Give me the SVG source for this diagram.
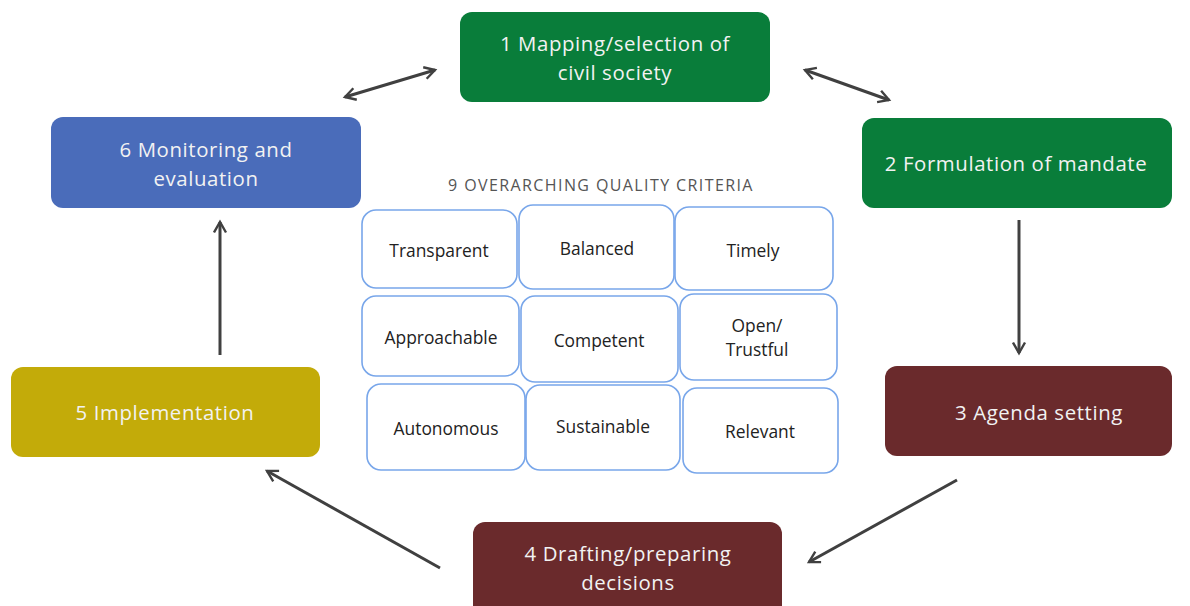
<svg xmlns="http://www.w3.org/2000/svg" width="1190" height="606" viewBox="0 0 1190 606">
<defs>
<style>
.node text{font-family:"Open Sans","Liberation Sans",sans-serif;font-size:20.4px;letter-spacing:0.6px;fill:#f2f2f2;text-anchor:middle}
.crit rect{fill:#fff;stroke:#78a6ea;stroke-width:1.6}
.crit text{font-family:"Open Sans","Liberation Sans",sans-serif;font-size:17.4px;fill:#222;text-anchor:middle}
.title{font-family:"Open Sans","Liberation Sans",sans-serif;font-size:16px;letter-spacing:1.4px;fill:#555;text-anchor:middle}
.conn line{stroke:#404040;stroke-width:3;fill:none}
</style>
<marker id="ah" viewBox="0 0 10 10" refX="8" refY="5" markerWidth="5" markerHeight="5" orient="auto-start-reverse" markerUnits="strokeWidth">
<path d="M1,1 L8,5 L1,9" fill="none" stroke="#404040" stroke-width="1.6"/>
</marker>
</defs>
<rect width="1190" height="606" fill="#fff"/>
<g id="n1" class="node"><rect x="460" y="12" width="310" height="90" rx="12" fill="#097d3a"/><text x="615" y="51">1 Mapping/selection of</text><text x="615" y="79.5">civil society</text></g>
<g id="n2" class="node"><rect x="862" y="118" width="310" height="90" rx="12" fill="#097d3a"/><text x="1016" y="171">2 Formulation of mandate</text></g>
<g id="n3" class="node"><rect x="885" y="366" width="287" height="90" rx="12" fill="#6a2a2c"/><text x="1039" y="420">3 Agenda setting</text></g>
<g id="n4" class="node"><rect x="473" y="522" width="309" height="96" rx="12" fill="#6a2a2c"/><text x="628" y="561">4 Drafting/preparing</text><text x="628" y="589.5">decisions</text></g>
<g id="n5" class="node"><rect x="11" y="367" width="309" height="90" rx="12" fill="#c3ab09"/><text x="165" y="420">5 Implementation</text></g>
<g id="n6" class="node"><rect x="51" y="117" width="310" height="91" rx="12" fill="#4a6cba"/><text x="206" y="157">6 Monitoring and</text><text x="206" y="185.5">evaluation</text></g>
<text class="title" x="601" y="191">9 OVERARCHING QUALITY CRITERIA</text>
<g id="criteria" class="crit">
<g id="c1"><rect x="362" y="210" width="155" height="78" rx="14"/><text x="439" y="257">Transparent</text></g>
<g id="c2"><rect x="519" y="205" width="155" height="84" rx="14"/><text x="597" y="255">Balanced</text></g>
<g id="c3"><rect x="675" y="207" width="158" height="83" rx="14"/><text x="753" y="257">Timely</text></g>
<g id="c4"><rect x="362" y="296" width="157" height="80" rx="14"/><text x="441" y="344">Approachable</text></g>
<g id="c5"><rect x="521" y="296" width="157" height="86" rx="14"/><text x="599" y="347">Competent</text></g>
<g id="c6"><rect x="680" y="294" width="157" height="86" rx="14"/><text x="757" y="332">Open/</text><text x="757" y="356">Trustful</text></g>
<g id="c7"><rect x="367" y="384" width="158" height="86" rx="14"/><text x="446" y="435">Autonomous</text></g>
<g id="c8"><rect x="526" y="385" width="154" height="85" rx="14"/><text x="603" y="433">Sustainable</text></g>
<g id="c9"><rect x="683" y="388" width="155" height="85" rx="14"/><text x="760" y="438">Relevant</text></g>
</g>
<g id="connectors" class="conn">
<line x1="345" y1="97" x2="435" y2="70" marker-start="url(#ah)" marker-end="url(#ah)"/>
<line x1="805" y1="70" x2="889" y2="100" marker-start="url(#ah)" marker-end="url(#ah)"/>
<line x1="1019" y1="220" x2="1019" y2="353" marker-end="url(#ah)"/>
<line x1="957" y1="480" x2="809" y2="562" marker-end="url(#ah)"/>
<line x1="440" y1="568" x2="267" y2="471" marker-end="url(#ah)"/>
<line x1="220" y1="355" x2="220" y2="222" marker-end="url(#ah)"/>
</g>
</svg>
